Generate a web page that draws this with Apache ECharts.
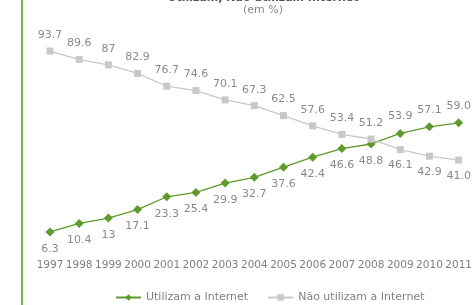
<!DOCTYPE html>
<html>
<head>
<meta charset="utf-8">
<script src="https://cdn.jsdelivr.net/npm/echarts@6/dist/echarts.min.js"></script>
<style>
  html, body { margin: 0; padding: 0; background: #fff; }
  #chart { width: 475px; height: 305px; }
</style>
</head>
<body>
<div id="chart"></div>
<script>
const years = ['1997', '1998', '1999', '2000', '2001', '2002', '2003', '2004',
  '2005', '2006', '2007', '2008', '2009', '2010', '2011'];
const utilizam = [6.3, 10.4, 13, 17.1, 23.3, 25.4, 29.9, 32.7, 37.6, 42.4, 46.6, 48.8, 53.9, 57.1, 59.0];
const naoUtilizam = [93.7, 89.6, 87, 82.9, 76.7, 74.6, 70.1, 67.3, 62.5, 57.6, 53.4, 51.2, 46.1, 42.9, 41.0];
const utilizamLabels = ['6.3', '10.4', '13', '17.1', '23.3', '25.4', '29.9', '32.7', '37.6', '42.4', '46.6', '48.8', '53.9', '57.1', '59.0'];
const naoLabels = ['93.7', '89.6', '87', '82.9', '76.7', '74.6', '70.1', '67.3', '62.5', '57.6', '53.4', '51.2', '46.1', '42.9', '41.0'];

var chart = echarts.init(document.getElementById('chart'));

// label above the point when this series is the higher one, below otherwise
const mkData = (vals, other, labels) =>
  vals.map((v, i) => ({
    value: v,
    label: { position: v >= other[i] ? 'top' : 'bottom', formatter: labels[i] },
  }));

const labelStyle = {
  show: true,
  color: '#8a8a8a',
  fontSize: 11,
  fontFamily: 'DejaVu Sans',
  distance: 7,
};

const option = {
  animation: false,
  title: {
    text: 'Utilizam, Não utilizam Internet',
    subtext: '(em %)',
    left: 258,
    top: -12,
    textAlign: 'center',
    itemGap: 1,
    textStyle: { fontSize: 11, fontWeight: 'bold', color: '#555', fontFamily: 'DejaVu Sans' },
    subtextStyle: { fontSize: 11, color: '#8a8a8a', fontFamily: 'DejaVu Sans' },
  },
  grid: { left: 50, right: 10, top: 38, bottom: 60 },
  xAxis: {
    type: 'category',
    data: years,
    boundaryGap: false,
    axisLine: { show: false },
    axisTick: { show: false },
    axisLabel: {
      color: '#808080',
      fontSize: 10.5,
      fontFamily: 'DejaVu Sans',
      margin: 15,
      interval: 0,
    },
  },
  yAxis: { type: 'value', min: 0, max: 100, show: false },
  legend: {
    bottom: -3,
    left: 110,
    itemWidth: 25,
    itemHeight: 8,
    itemGap: 19,
    textStyle: { color: '#808080', fontSize: 11, fontFamily: 'DejaVu Sans' },
    data: ['Utilizam a Internet', 'Não utilizam a Internet'],
  },
  graphic: [
    { type: 'rect', shape: { x: 21, y: 0, width: 2, height: 305 }, style: { fill: '#7ab648' } },
  ],
  series: [
    {
      name: 'Utilizam a Internet',
      type: 'line',
      data: mkData(utilizam, naoUtilizam, utilizamLabels),
      symbol: 'diamond',
      symbolSize: 9,
      lineStyle: { color: '#5f9a2c', width: 1.3 },
      itemStyle: { color: '#5f9a2c' },
      label: labelStyle,
    },
    {
      name: 'Não utilizam a Internet',
      type: 'line',
      data: mkData(naoUtilizam, utilizam, naoLabels),
      symbol: 'rect',
      symbolSize: 7,
      lineStyle: { color: '#c8c8c8', width: 1.3 },
      itemStyle: { color: '#c8c8c8' },
      label: labelStyle,
    },
  ],
};
chart.setOption(option);
</script>
</body>
</html>
